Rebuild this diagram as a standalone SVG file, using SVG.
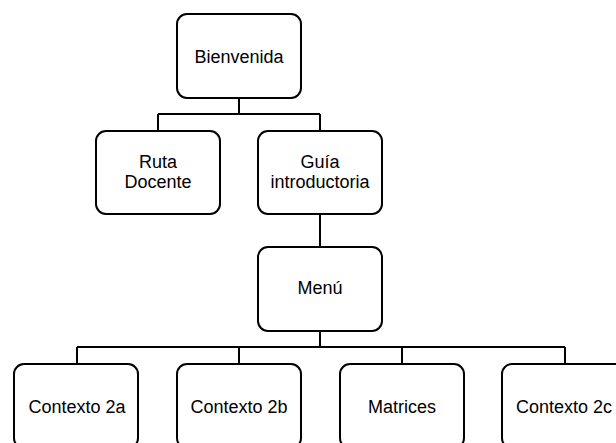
<svg xmlns="http://www.w3.org/2000/svg" width="616" height="443" viewBox="0 0 616 443">
<style>
.box{fill:#fff;stroke:#000;stroke-width:2}
.lbl{font-family:"Liberation Sans",Arial,sans-serif;font-size:18px;fill:#000;text-anchor:middle}
.con{fill:none;stroke:#000;stroke-width:2}
</style>
<rect width="616" height="443" fill="#fff"/>
<g id="connectors">
<path class="con" d="M239,98 V114 M158,114 H320 M158,114 V131 M320,114 V131"/>
<path class="con" d="M320,214 V247"/>
<path class="con" d="M320,331 V347 M77,347 H565 M77,347 V364 M239,347 V364 M402,347 V364 M565,347 V364"/>
</g>
<g id="bienvenida"><rect class="box" x="177" y="14" width="124" height="84" rx="10"/><text class="lbl" x="239" y="63">Bienvenida</text></g>
<g id="ruta-docente"><rect class="box" x="96" y="131" width="124" height="83" rx="10"/><text class="lbl" x="158" y="168">Ruta</text><text class="lbl" x="158" y="188">Docente</text></g>
<g id="guia"><rect class="box" x="258" y="131" width="124" height="83" rx="10"/><text class="lbl" x="320" y="168">Guía</text><text class="lbl" x="320" y="188">introductoria</text></g>
<g id="menu"><rect class="box" x="258" y="247" width="124" height="84" rx="10"/><text class="lbl" x="320" y="294">Menú</text></g>
<g id="contexto-2a"><rect class="box" x="14" y="364" width="124" height="84" rx="10"/><text class="lbl" x="77" y="413">Contexto 2a</text></g>
<g id="contexto-2b"><rect class="box" x="177" y="364" width="124" height="84" rx="10"/><text class="lbl" x="239" y="413">Contexto 2b</text></g>
<g id="matrices"><rect class="box" x="340" y="364" width="124" height="84" rx="10"/><text class="lbl" x="402" y="413">Matrices</text></g>
<g id="contexto-2c"><rect class="box" x="502" y="364" width="124" height="84" rx="10"/><text class="lbl" x="564" y="413">Contexto 2c</text></g>
</svg>
